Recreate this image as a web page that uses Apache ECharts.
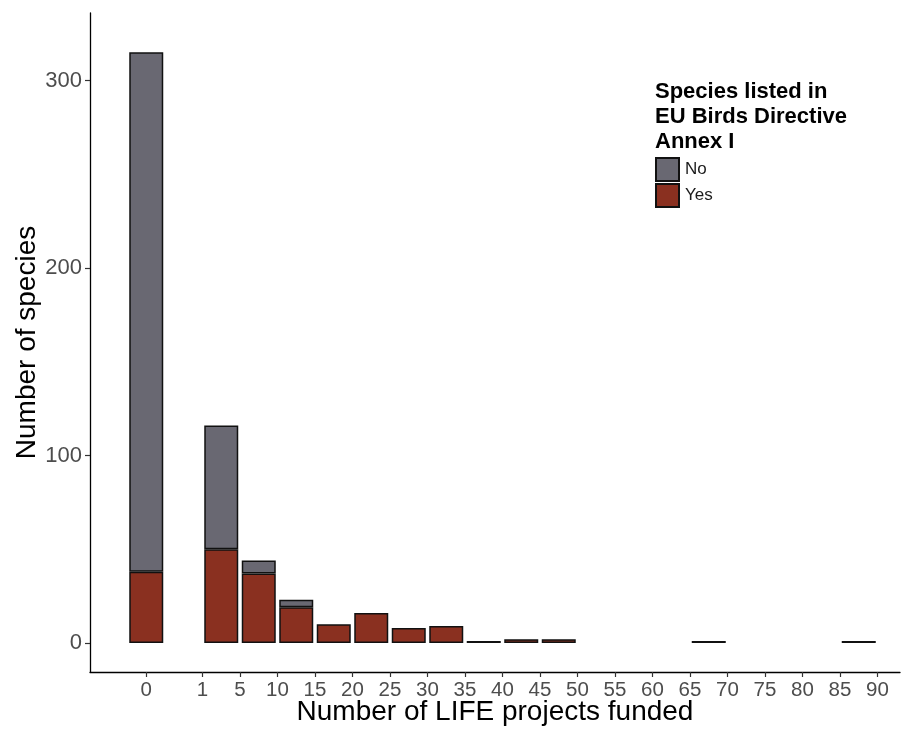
<!DOCTYPE html>
<html>
<head>
<meta charset="utf-8">
<script src="https://cdn.jsdelivr.net/npm/echarts@6/dist/echarts.min.js"></script>
<style>
html,body{margin:0;padding:0;background:#fff;}
#chart{width:901px;height:729px;}
</style>
</head>
<body>
<div id="chart"></div>
<script>
// Bins of number of LIFE projects funded
const binLabels = ['0','1-5','5-10','10-15','15-20','20-25','25-30','30-35','35-40','40-45','45-50','50-55','55-60','60-65','65-70','70-75','75-80','80-85','85-90'];
// Species listed in Annex I: Yes
const yesCounts = [38, 50, 37, 19, 10, 16, 8, 9, 1, 2, 2, 0, 0, 0, 1, 0, 0, 0, 1];
// Species listed in Annex I: No
const noCounts  = [277, 66, 7, 4, 0, 0, 0, 0, 0, 0, 0, 0, 0, 0, 0, 0, 0, 0, 0];
// Tick labels on the x axis (bin edges)
const tickLabels = ['0','1','5','10','15','20','25','30','35','40','45','50','55','60','65','70','75','80','85','90'];
const yTicks = [0, 100, 200, 300];

// position of each bin on the x scale (0 bar separated from the binned bars)
const binPos = binLabels.map((_, i) => i === 0 ? 0 : i + 1);
const tickPos = tickLabels.map((_, j) => j === 0 ? 0 : j + 0.5);
const tickMap = {};
tickPos.forEach((p, j) => { tickMap[p.toFixed(1)] = tickLabels[j]; });

// value first, position second (so that stacking is done on the value dimension)
const toData = arr => arr.map((v, i) => [v === 0 ? '-' : v, binPos[i]]);

const FONT = '"Liberation Sans", Arial, sans-serif';
const chart = echarts.init(document.getElementById('chart'));
chart.setOption({
  backgroundColor: '#ffffff',
  animation: false,
  title: {
    text: 'Species listed in\nEU Birds Directive\nAnnex I',
    left: 650, top: 74,
    textStyle: { fontFamily: FONT, fontSize: 22, fontWeight: 'bold', color: '#000', lineHeight: 25 }
  },
  legend: {
    data: ['No', 'Yes'],
    orient: 'vertical',
    left: 650, top: 152,
    itemWidth: 23, itemHeight: 23, itemGap: 1,
    icon: 'rect',
    textStyle: { fontFamily: FONT, fontSize: 17, color: '#1a1a1a', padding: [0,0,0,1] }
  },
  grid: { left: 90, right: 1, top: 13, bottom: 57, containLabel: false, outerBoundsMode: 'none' },
  xAxis: {
    type: 'value',
    min: -1.5, max: 20.1,
    name: 'Number of LIFE projects funded',
    nameLocation: 'middle', nameGap: 26, nameMoveOverlap: false,
    nameTextStyle: { fontFamily: FONT, fontSize: 28, color: '#000' },
    axisLine: { show: true, onZero: false, lineStyle: { color: '#000', width: 1.3 } },
    axisTick: { show: true, length: 5, customValues: tickPos, lineStyle: { color: '#333', width: 1.2 } },
    axisLabel: {
      customValues: tickPos, margin: 8,
      fontFamily: FONT, fontSize: 20.5, color: '#4d4d4d',
      formatter: v => tickMap[Number(v).toFixed(1)] || ''
    },
    splitLine: { show: false }
  },
  yAxis: {
    type: 'value',
    min: -15.5, max: 336,
    name: 'Number of species',
    nameLocation: 'middle', nameGap: 49, nameMoveOverlap: false,
    nameTextStyle: { fontFamily: FONT, fontSize: 28, color: '#000' },
    axisLine: { show: true, onZero: false, lineStyle: { color: '#000', width: 1.3 } },
    axisTick: { show: true, length: 5, customValues: yTicks, lineStyle: { color: '#333', width: 1.2 } },
    axisLabel: { customValues: yTicks, margin: 8, fontFamily: FONT, fontSize: 22, color: '#4d4d4d' },
    splitLine: { show: false }
  },
  series: [
    {
      name: 'Yes', type: 'bar', stack: 'total', barWidth: 34,
      encode: { x: 1, y: 0 },
      data: toData(yesCounts),
      itemStyle: { color: '#8a3020', borderColor: '#111', borderWidth: 1.5 }
    },
    {
      name: 'No', type: 'bar', stack: 'total', barWidth: 34,
      encode: { x: 1, y: 0 },
      data: toData(noCounts),
      itemStyle: { color: '#696872', borderColor: '#111', borderWidth: 1.5 }
    }
  ]
});
</script>
</body>
</html>
